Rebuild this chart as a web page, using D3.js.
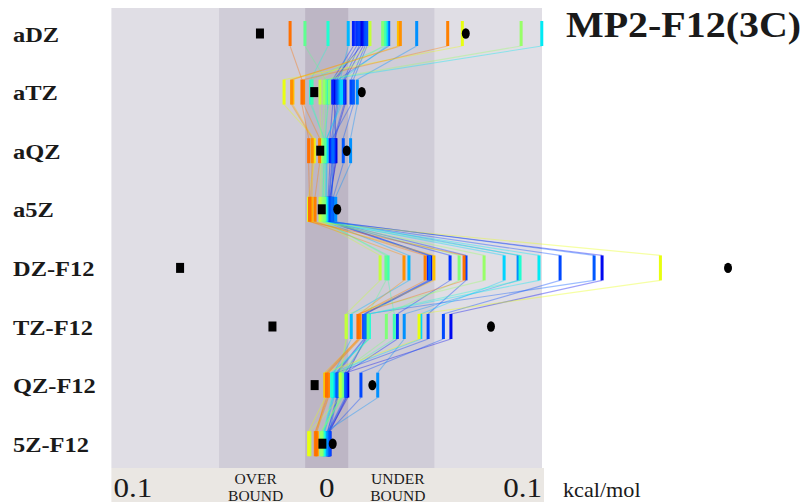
<!DOCTYPE html>
<html>
<head>
<meta charset="utf-8">
<script src="https://cdn.jsdelivr.net/npm/d3@7"></script>
<style>
  html, body { margin: 0; padding: 0; background: #ffffff; }
  svg { display: block; }
</style>
</head>
<body>
<svg id="chart" width="806" height="502"></svg>
<script>
// Basis-set rows, top to bottom
const basisSets = ["aDZ", "aTZ", "aQZ", "a5Z", "DZ-F12", "TZ-F12", "QZ-F12", "5Z-F12"];

// Per-method errors (kcal/mol); negative = overbound, positive = underbound.
// Method order is the same in every row, so a method can be followed from row to row.
const errADZ   = [0.0159, 0.0169, 0.0124, 0.0139, 0.0150, 0.0178, 0.0187, 0.0288, 0.0418, 0.0100, 0.0279, 0.0999, 0.0006, 0.0271, -0.0101, 0.0260, 0.0903, 0.0201, 0.0630, 0.0333, 0.0342, 0.0562, -0.0170];
const errATZ   = [0.0035, 0.0085, 0.0028, 0.0046, 0.0080, 0.0113, 0.0124, 0.0052, 0.0142, 0.0062, 0.0069, 0.0005, -0.0074, -0.0068, -0.0005, 0.0011, -0.0013, -0.0031, -0.0198, -0.0157, -0.0163, -0.0107, -0.0115];
const errAQZ   = [0.0043, 0.0039, 0.0015, 0.0023, 0.0034, 0.0027, 0.0077, 0.0029, 0.0111, 0.0001, 0.0000, -0.0006, -0.0011, -0.0015, -0.0008, -0.0020, -0.0026, -0.0029, -0.0058, -0.0064, -0.0068, -0.0033, -0.0084];
const errA5Z   = [0.0015, 0.0020, 0.0007, 0.0011, 0.0019, 0.0013, 0.0031, 0.0025, 0.0042, -0.0003, 0.0001, -0.0006, -0.0019, -0.0015, -0.0008, -0.0013, -0.0022, -0.0031, -0.0084, -0.0068, -0.0074, -0.0054, -0.0080];
const errDZF12 = [0.0484, 0.1279, 0.0471, 0.0573, 0.0647, 0.1084, 0.1242, 0.0478, 0.0889, 0.0382, 0.0824, 0.0986, 0.0898, 0.0285, 0.0275, 0.0615, 0.0731, 0.0248, 0.1550, 0.0498, 0.0359, 0.0457, 0.0638];
const errTZF12 = [0.0179, 0.0577, 0.0172, 0.0328, 0.0471, 0.0542, 0.0185, 0.0176, 0.0360, 0.0114, 0.0437, 0.0196, 0.0198, 0.0314, 0.0192, 0.0277, 0.0092, 0.0090, 0.0429, 0.0148, 0.0151, 0.0155, 0.0145];
const errQZF12 = [0.0098, 0.0092, 0.0046, 0.0090, 0.0050, 0.0159, 0.0085, 0.0052, 0.0237, 0.0034, 0.0029, 0.0027, 0.0023, 0.0069, 0.0074, 0.0065, 0.0067, 0.0062, -0.0006, -0.0009, 0.0005, 0.0008, -0.0001];
const err5ZF12 = [0.0011, 0.0015, 0.0005, 0.0008, 0.0013, 0.0015, 0.0006, 0.0004, -0.0001, -0.0008, -0.0010, -0.0013, -0.0014, -0.0020, -0.0023, -0.0022, -0.0026, -0.0078, -0.0084, -0.0043, -0.0053, -0.0046, -0.0050];

// Reference markers per row: square (overbound side) and dot (underbound side)
const squareMarks = [-0.0310, -0.0058, -0.0030, -0.0023, -0.0681, -0.0252, -0.0056, -0.0020];
const dotMarks    = [0.0646, 0.0163, 0.0093, 0.0049, 0.1864, 0.0763, 0.0212, 0.0028];

// Axis strip labels
const axisNumbers = [{ v: -0.1, text: "0.1" }, { v: 0, text: "0" }, { v: 0.1, text: "0.1" }];
const boundLabels = [{ v: -0.033, text: ["OVER", "BOUND"] }, { v: 0.033, text: ["UNDER", "BOUND"] }];
const unitLabel = "kcal/mol";
const title = "MP2-F12(3C)";

const rows = [errADZ, errATZ, errAQZ, errA5Z, errDZF12, errTZF12, errQZF12, err5ZF12];
const nMethods = errADZ.length;

// ---- styling ----
const methodPalette = [
  "#0000d8", "#0008f0", "#0020ff", "#0030ff", "#0040ff", "#0048ff", "#0058ff", "#0068ff",
  "#0090ff", "#00b8ff", "#00d4ff", "#00eaf4", "#20ffd0", "#40ffb0", "#60ff90", "#80ff78",
  "#98ff68", "#c4ff3c", "#e8ff10", "#ffc000", "#ff9000", "#ff8000", "#ff7000"
];
const serif = "'Liberation Serif', 'Times New Roman', serif";
const stretch = 1.11;

const svg = d3.select("#chart");

const x = d3.scaleLinear().domain([-0.1, 0.1]).range([111.4, 542]);
const y = d3.scalePoint().domain(basisSets).range([33.5, 443.7]);
const color = d3.scaleOrdinal().domain(d3.range(nMethods)).range(methodPalette);

const plotTop = 8, plotBottom = 468, stripBottom = 502;
const tickH = 25, tickW = 3;

// background bands: +-0.1, +-0.05, +-0.01
const bands = [
  { lim: 0.1, fill: "#e0dee5" },
  { lim: 0.05, fill: "#d0cdd8" },
  { lim: 0.01, fill: "#bdb6c5" }
];
svg.append("g").selectAll("rect").data(bands).join("rect")
  .attr("x", d => x(-d.lim))
  .attr("width", d => x(d.lim) - x(-d.lim))
  .attr("y", plotTop)
  .attr("height", plotBottom - plotTop)
  .attr("fill", d => d.fill);

// axis strip
svg.append("rect")
  .attr("x", x(-0.1)).attr("width", x(0.1) - x(-0.1) + 2)
  .attr("y", plotBottom).attr("height", stripBottom - plotBottom)
  .attr("fill", "#eae7e3");

// connectors: each method from the bottom of its mark in one row to the top of its mark in the next
const links = [];
for (let r = 0; r < rows.length - 1; r++) {
  for (let m = 0; m < nMethods; m++) {
    links.push({ m, x1: rows[r][m], r1: basisSets[r], x2: rows[r + 1][m], r2: basisSets[r + 1] });
  }
}
svg.append("g").selectAll("line").data(links).join("line")
  .attr("x1", d => x(d.x1)).attr("y1", d => y(d.r1) + tickH / 2)
  .attr("x2", d => x(d.x2)).attr("y2", d => y(d.r2) - tickH / 2)
  .attr("stroke", d => color(d.m))
  .attr("stroke-opacity", 0.38)
  .attr("stroke-width", 1.1);

// method marks
const marks = [];
rows.forEach((vals, r) => vals.forEach((v, m) => marks.push({ m, v, row: basisSets[r] })));
svg.append("g").selectAll("rect").data(marks).join("rect")
  .attr("x", d => x(d.v) - tickW / 2)
  .attr("y", d => y(d.row) - tickH / 2)
  .attr("width", tickW)
  .attr("height", tickH)
  .attr("fill", d => color(d.m));

// reference markers
svg.append("g").selectAll("rect").data(squareMarks).join("rect")
  .attr("x", d => x(d) - 4)
  .attr("y", (d, i) => y(basisSets[i]) - 5)
  .attr("width", 8).attr("height", 10)
  .attr("fill", "#000");
svg.append("g").selectAll("ellipse").data(dotMarks).join("ellipse")
  .attr("cx", d => x(d))
  .attr("cy", (d, i) => y(basisSets[i]))
  .attr("rx", 4).attr("ry", 5.2)
  .attr("fill", "#000");

// helper for horizontally widened serif text
function label(g, tx, ty, text, size, weight, anchor) {
  return g.append("text")
    .attr("transform", `translate(${tx},${ty}) scale(${stretch},1)`)
    .attr("text-anchor", anchor || "start")
    .attr("font-family", serif)
    .attr("font-size", size)
    .attr("font-weight", weight || "normal")
    .attr("fill", "#1a1a1a")
    .text(text);
}

// row labels
const labelG = svg.append("g");
basisSets.forEach(b => label(labelG, 13, y(b) + 8, b, 22, "bold"));

// title
label(svg, 566, 37, title, 36, "bold");

// axis strip text
const axisG = svg.append("g");
label(axisG, x(-0.1) + 2, 497, axisNumbers[0].text, 28, "normal", "start");
label(axisG, x(axisNumbers[1].v), 497, axisNumbers[1].text, 28, "normal", "middle");
label(axisG, x(0.1), 497, axisNumbers[2].text, 28, "normal", "end");
boundLabels.forEach(d => {
  label(axisG, x(d.v), 484, d.text[0], 14, "normal", "middle");
  label(axisG, x(d.v), 500.5, d.text[1], 14, "normal", "middle");
});
label(svg, 563, 497, unitLabel, 20, "normal", "start");
</script>
